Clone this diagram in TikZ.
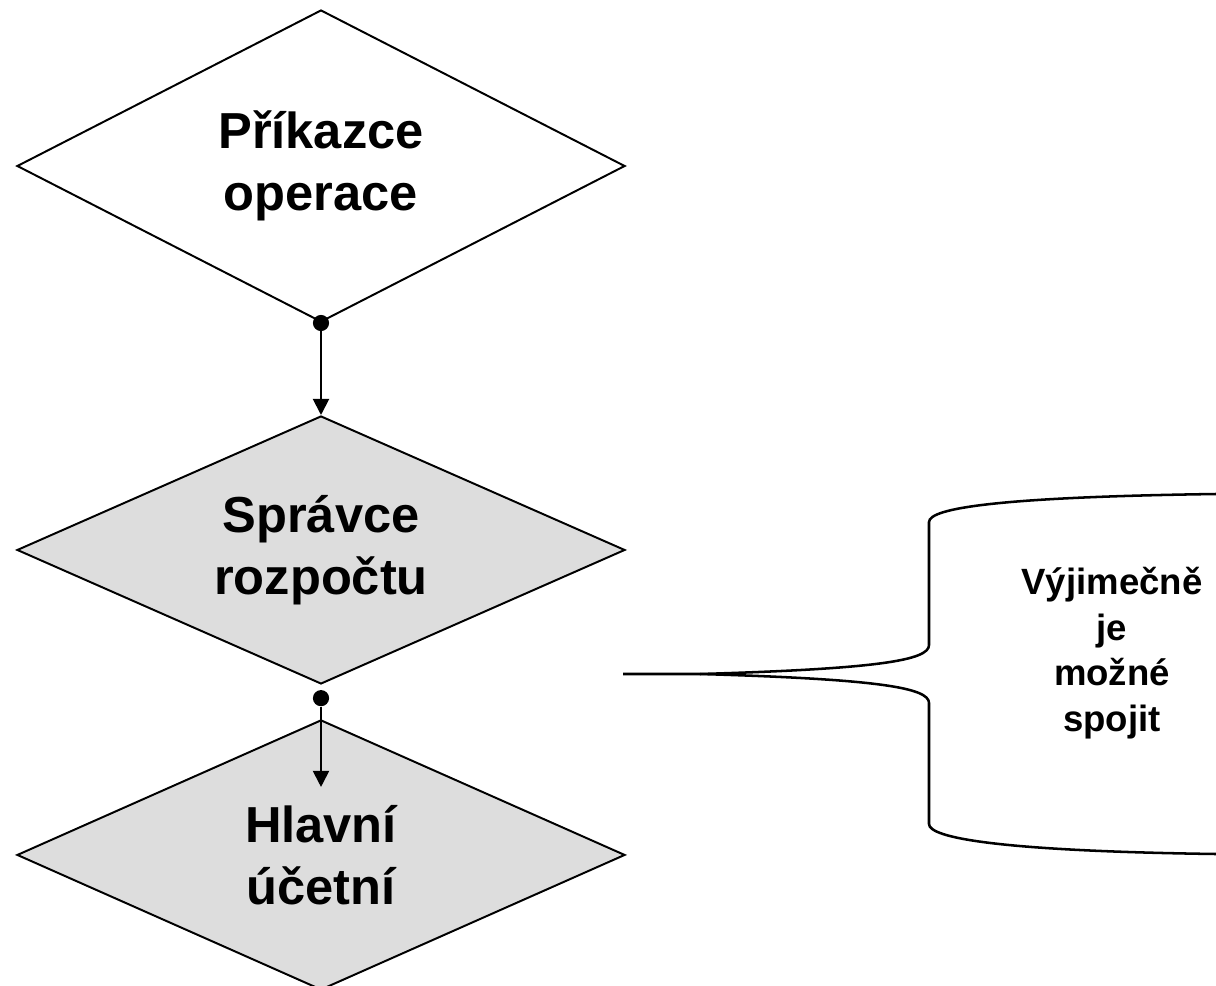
\documentclass[tikz,border=0pt]{standalone}
\usepackage{fontspec}
\setmainfont{Liberation Sans}
\usepackage{tikz}
\usetikzlibrary{shapes.geometric,positioning,arrows.meta}
\definecolor{boxgray}{HTML}{DDDDDD}
\tikzstyle{role} = [diamond, draw, line width=1.4pt, shape aspect=2.25, inner sep=0pt, minimum width=15.2cm, align=center, font=\fontsize{36}{44}\selectfont\bfseries]
\tikzstyle{connector} = [line width=1.4pt,-{Triangle[length=11.5pt,width=11.5pt]}]
\tikzstyle{joint} = [circle, fill=black, inner sep=0pt, minimum size=11.5pt]
\tikzstyle{brace} = [line width=1.8pt]

\begin{document}
\begin{tikzpicture}
        \useasboundingbox (0,0) rectangle (30.4,-24.625);
        \node (orderer) [role, minimum height=7.8cm] at (8.025,-4.15) {Příkazce\\operace};
        \node (budget) [role, fill=boxgray, minimum height=6.7cm, below=2.3cm of orderer] {Správce\\rozpočtu};
        \node (accountant) [role, fill=boxgray, minimum height=6.75cm, below=0.85cm of budget] {Hlavní\\účetní};
        \node (dot-1) [joint] at (orderer.south) {};
        \node (dot-2) [joint, yshift=-0.33cm] at (budget.south) {};
        \path (accountant.north) ++(0,-1.7) coordinate (arrow-end);
        \draw [connector] (dot-1) -- (budget.north);
        \draw [connector] (dot-2) -- (arrow-end);
        \coordinate (brace-tip) at (15.575,-16.85);
        \coordinate (brace-split) at (17.5,-16.85);
        \draw [brace] (brace-tip) -- (brace-split)
                      .. controls (22,-16.72) and (23.225,-16.5) .. (23.225,-16.125)
                      -- (23.225,-13.05)
                      .. controls (23.225,-12.7) and (25,-12.425) .. (30.4,-12.35);
        \draw [brace] (brace-split)
                      .. controls (22,-16.98) and (23.225,-17.2) .. (23.225,-17.575)
                      -- (23.225,-20.6)
                      .. controls (23.225,-20.95) and (25,-21.275) .. (30.4,-21.35);
        \node (note) [align=center, font=\fontsize{26}{32.5}\selectfont\bfseries] at (27.8,-16.325) {Výjimečně\\je\\možné\\spojit};
    \end{tikzpicture}
\end{document}
